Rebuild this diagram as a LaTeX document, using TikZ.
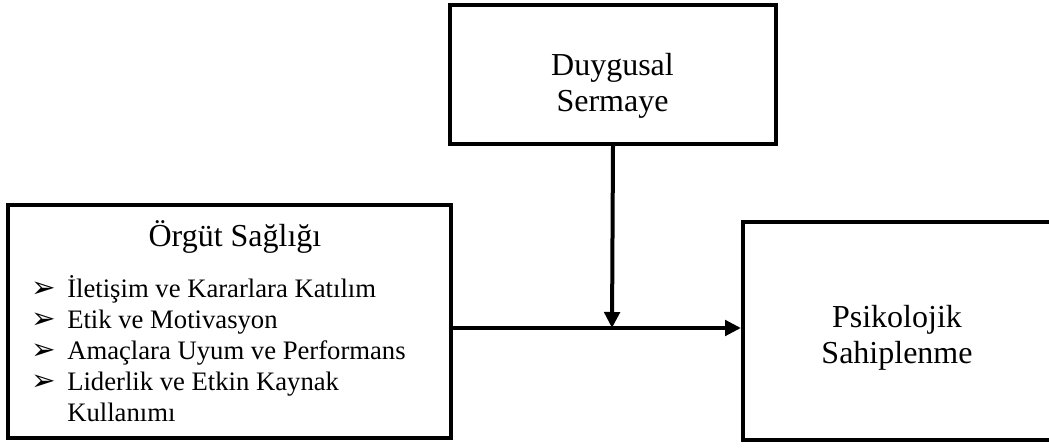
\documentclass[tikz,border=0pt]{standalone}
\usepackage{fontspec}
\setmainfont{Liberation Serif}
\newfontfamily\okfont{DejaVu Sans}
\usetikzlibrary{arrows.meta,positioning}

\begin{document}
\begin{tikzpicture}[x=0.75pt,y=-0.75pt,
    kutu/.style={draw,line width=3pt,inner sep=0pt},
    buyuk/.style={font=\fontsize{24}{27.4}\selectfont,align=center},
    madde/.style={font=\fontsize{20}{23}\selectfont,anchor=base west,inner sep=0pt},
    isaret/.style={font=\okfont\fontsize{22}{24}\selectfont,anchor=base west,inner sep=0pt},
    ok/.style={line width=3pt,-{Triangle[length=12pt,width=11.5pt]}}]
    \useasboundingbox (0,0) rectangle (1049,448);
    % kutular
    \node[kutu,minimum width=332pt,minimum height=175pt] (os) at (229.5,321.5) {};
    \node[kutu,minimum width=244.5pt,minimum height=104pt] (ds) at (613,74.5) {};
    \node[kutu,minimum width=234pt,minimum height=163.5pt] (ps) at (899,331) {};
    % metinler
    \node[buyuk] (dsyazi) at (612.5,86) {Duygusal\\Sermaye};
    \node[buyuk] (psyazi) at (897,338) {Psikolojik\\Sahiplenme};
    \node[buyuk,anchor=base,inner sep=0pt] (baslik) at (235,247) {Örgüt Sağlığı};
    \foreach \i/\metin in {1/İletişim ve Kararlara Katılım,2/Etik ve Motivasyon,
        3/Amaçlara Uyum ve Performans,4/Liderlik ve Etkin Kaynak}{
        \node[isaret] (i\i) at (31,267+31*\i) {➢};
        \node[madde] (m\i) at (67,267+31*\i) {\metin};
    }
    \node[madde] (m5) at (67,422) {Kullanımı};
    % oklar
    \coordinate (kesisim) at (612,328);
    \draw[ok] (os.east |- kesisim) -- (ps.west |- kesisim);
    \draw[ok] (ds.south) -- (kesisim);
\end{tikzpicture}
\end{document}
